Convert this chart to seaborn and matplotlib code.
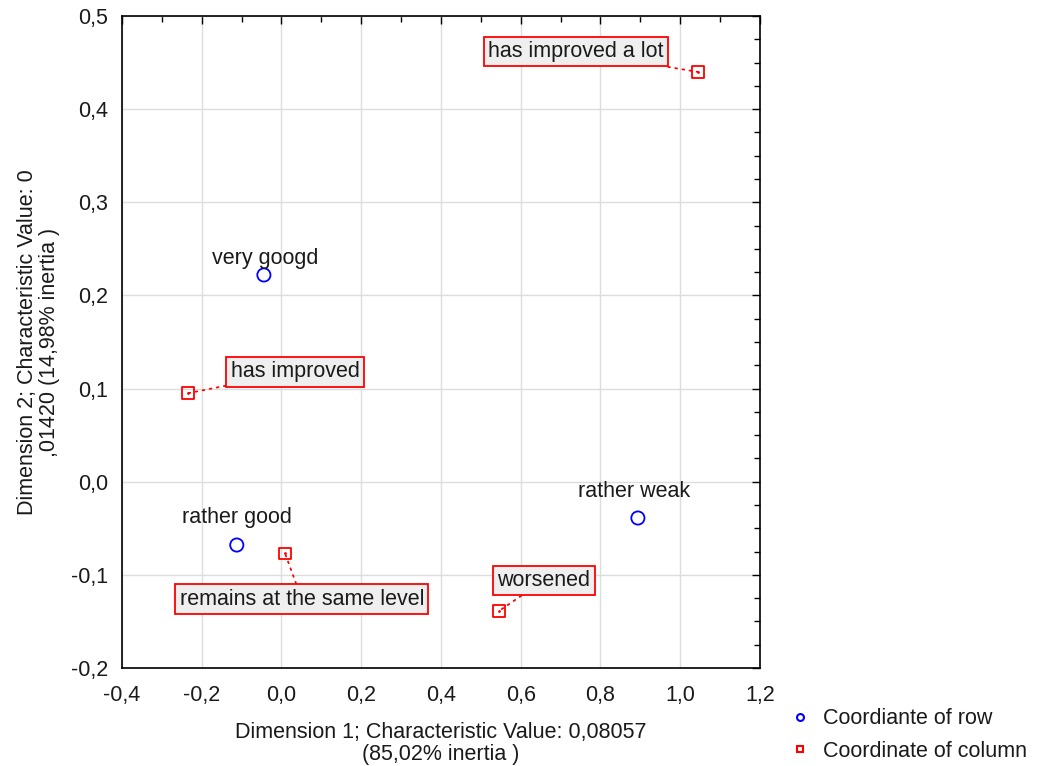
import matplotlib
matplotlib.use("Agg")
import matplotlib.pyplot as plt
import numpy as np
import pandas as pd
import seaborn as sns
from matplotlib.lines import Line2D
from matplotlib.ticker import FuncFormatter, MultipleLocator

# row coordinates
row_labels = ["very googd", "rather good", "rather weak"]
row_dim1 = [-0.044, -0.112, 0.894]
row_dim2 = [0.222, -0.068, -0.039]

# column coordinates
col_labels = ["has improved a lot", "has improved", "remains at the same level", "worsened"]
col_dim1 = [1.045, -0.234, 0.009, 0.545]
col_dim2 = [0.440, 0.095, -0.077, -0.139]

# where the label boxes sit (data units)
row_text_xy = [(-0.041, 0.240), (-0.112, -0.038), (0.884, -0.010)]
col_text_xy = [(0.739, 0.462), (0.034, 0.118), (0.051, -0.126), (0.658, -0.106)]

sns.set_style("white")
plt.rcParams["font.family"] = ["Liberation Sans", "DejaVu Sans"]

rows = pd.DataFrame({"x": row_dim1, "y": row_dim2, "label": row_labels})
cols = pd.DataFrame({"x": col_dim1, "y": col_dim2, "label": col_labels})

fig = plt.figure(figsize=(10.37, 7.66), dpi=100)
ax = fig.add_axes([0.1176, 0.128, 0.6152, 0.851])

sns.scatterplot(data=rows, x="x", y="y", ax=ax, marker="o", s=90,
                facecolors="none", edgecolor="blue", linewidth=1.3, zorder=3)
sns.scatterplot(data=cols, x="x", y="y", ax=ax, marker="s", s=70,
                facecolors="none", edgecolor="red", linewidth=1.3, zorder=3)

txt = "#1a1a1a"
for (tx, ty), lab in zip(row_text_xy, row_labels):
    ax.text(tx, ty, lab, ha="center", va="center", fontsize=15.5, color=txt)

for x, y, (tx, ty), lab in zip(col_dim1, col_dim2, col_text_xy, col_labels):
    ax.annotate(lab, xy=(x, y), xytext=(tx, ty), ha="center", va="center",
                fontsize=15.5, color=txt,
                bbox=dict(boxstyle="square,pad=0.2", fc="#efefef", ec="red", lw=1.3),
                arrowprops=dict(arrowstyle="-", color="red", ls=(0, (1, 3)), lw=1.3,
                                shrinkA=0, shrinkB=0))
    ax.plot([x], [y], marker=".", color="red", markersize=2, zorder=4)

ax.set_xlim(-0.4, 1.2)
ax.set_ylim(-0.2, 0.5)
ax.xaxis.set_major_locator(MultipleLocator(0.2))
ax.xaxis.set_minor_locator(MultipleLocator(0.1))
ax.yaxis.set_major_locator(MultipleLocator(0.1))
ax.yaxis.set_minor_locator(MultipleLocator(0.025))
fmt = FuncFormatter(lambda v, p: f"{v:.1f}".replace(".", ",").replace("-0,0", "0,0"))
ax.xaxis.set_major_formatter(fmt)
ax.yaxis.set_major_formatter(fmt)
ax.tick_params(which="both", direction="in", top=True, right=True, color="black")
ax.tick_params(which="major", length=6, width=1, labelsize=15.5, labelcolor=txt)
ax.tick_params(axis="x", which="major", pad=12)
ax.tick_params(axis="y", which="major", pad=10)
ax.tick_params(which="minor", length=4, width=1)
ax.grid(True, which="major", color="#dddddd", lw=1)
for sp in ax.spines.values():
    sp.set_color("black")
    sp.set_linewidth(1.2)

ax.set_xlabel("Dimension 1; Characteristic Value: 0,08057\n(85,02% inertia )",
              fontsize=15.5, labelpad=12, color=txt, linespacing=1.05)
ax.set_ylabel("Dimension 2; Characteristic Value: 0\n,01420 (14,98% inertia )",
              fontsize=15.5, labelpad=8, color=txt, linespacing=1.05)

handles = [
    Line2D([], [], ls="none", marker="o", markersize=5, mfc="none", mec="blue", mew=1.5),
    Line2D([], [], ls="none", marker="s", markersize=5, mfc="none", mec="red", mew=1.5),
]
fig.legend(handles, ["Coordiante of row", "Coordinate of column"],
           loc="lower left", bbox_to_anchor=(0.74, -0.02), frameon=False,
           fontsize=15.5, handletextpad=0.5, labelspacing=0.55, handlelength=1.2,
           labelcolor=txt)

fig.savefig("out.png", dpi=100)
